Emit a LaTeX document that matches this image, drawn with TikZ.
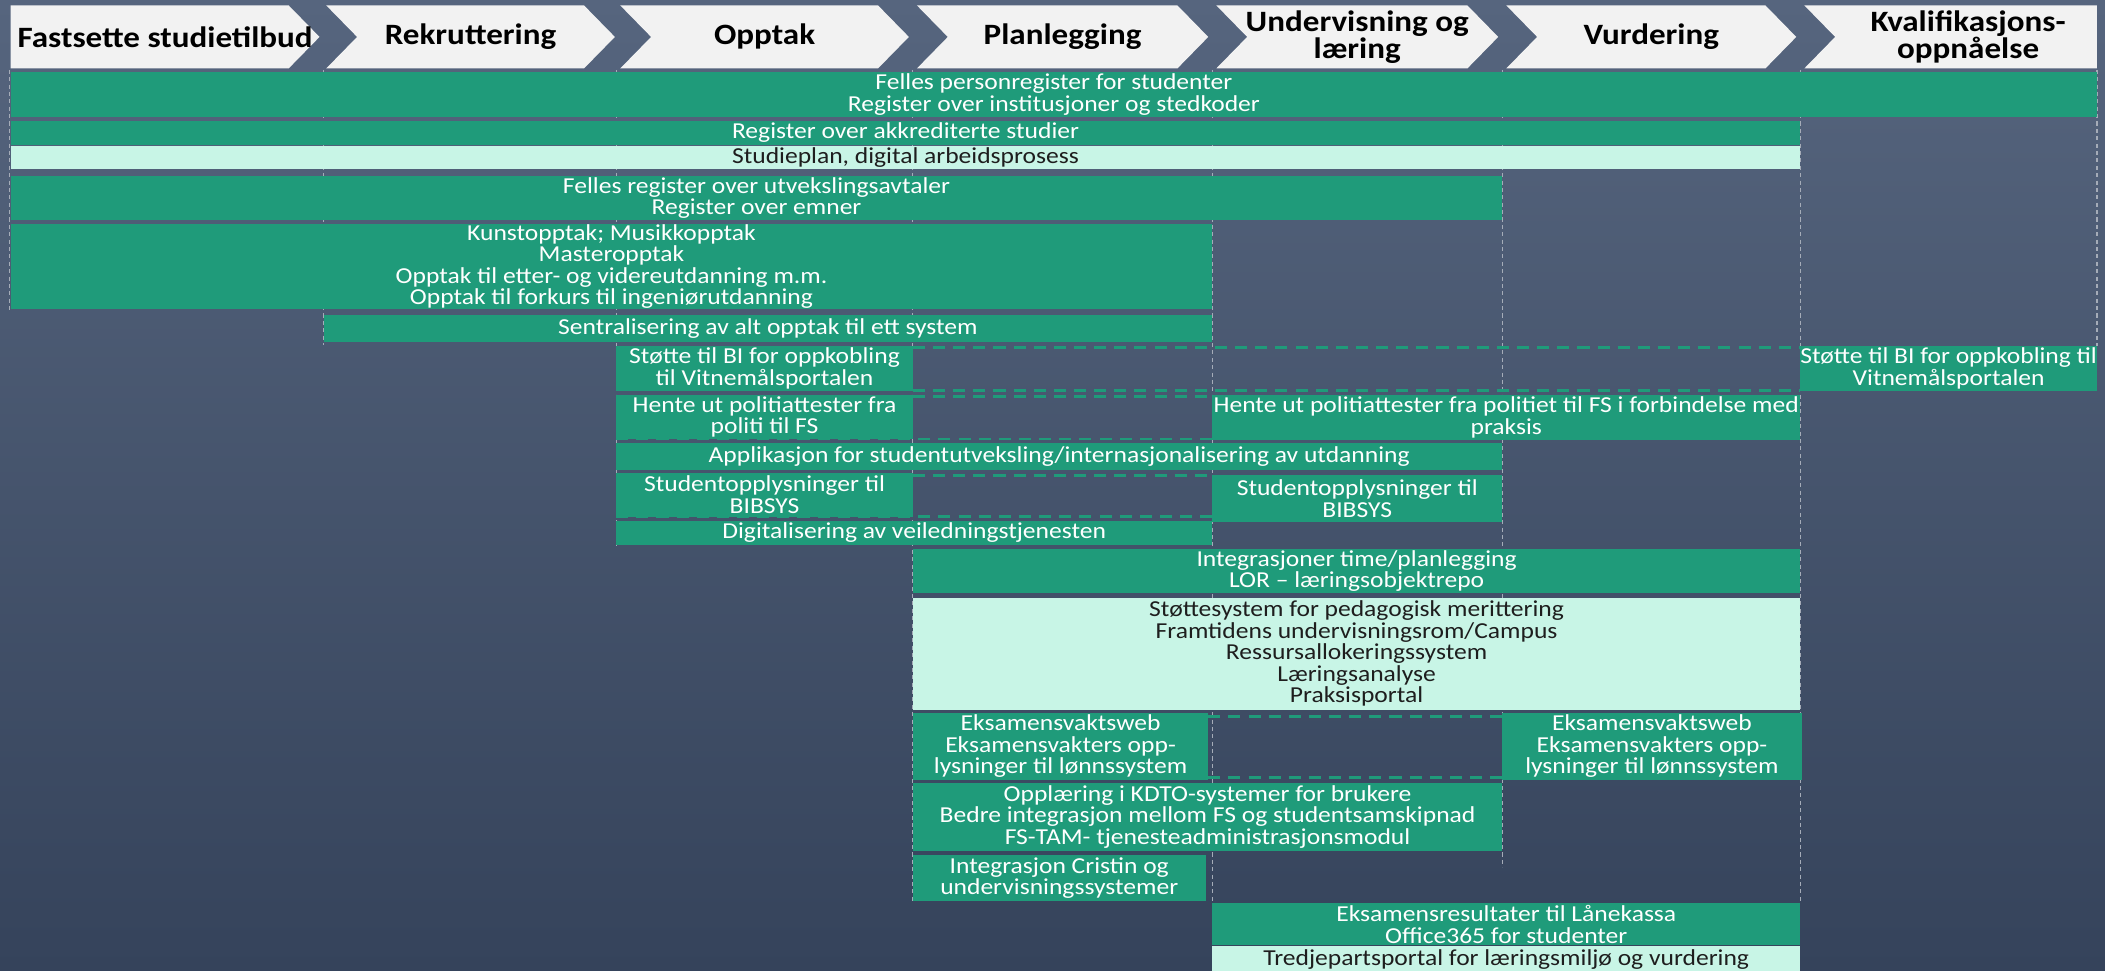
\documentclass[tikz,border=0pt]{standalone}
\usepackage{fontspec}
\setmainfont[FakeStretch=1.12]{Carlito}
\definecolor{bgtop}{RGB}{86,101,126}
\definecolor{bgbot}{RGB}{53,67,91}
\definecolor{barg}{RGB}{31,155,122}
\definecolor{barl}{RGB}{200,245,230}
\definecolor{hdr}{RGB}{242,242,242}
\definecolor{gridc}{RGB}{165,172,184}
\definecolor{ltxt}{RGB}{30,30,30}
\newcommand\placebar[7]{%
  \node[#1, minimum width={(#5-#3)*1pt}, minimum height={(#6-#4)*1pt}] (#2) at ({(#3+#5)/2},{(#4+#6)/2}) {#7};}
\newcommand\midchev[2]{% left x, tip x
  \fill[hdr] (#1,4) -- ({#2-23},4) -- (#2,27.5) -- ({#2-23},51) -- (#1,51) -- ({#1+23},27.5) -- cycle;}
\tikzset{
  gbar/.style={fill=barg, text=white, inner sep=0pt, outer sep=0pt, align=center,
    font=\fontsize{17}{16}\selectfont},
  lbar/.style={gbar, fill=barl, text=ltxt},
  gridline/.style={gridc, line width=0.9pt, dash pattern=on 3pt off 2.5pt},
  cellline/.style={barg, line width=2.2pt, dash pattern=on 9pt off 6pt},
  hdtext/.style={font=\fontsize{22}{20}\selectfont\bfseries, text=black, align=center, inner sep=0pt},
}
\begin{document}
\begin{tikzpicture}[x=1pt,y=-1pt]
\useasboundingbox (0,0) rectangle (1568,723);
\shade[top color=bgtop, bottom color=bgbot] (0,0) rectangle (1568,723);
% grid lines
\foreach \gx/\gy in {7/232, 241/257, 459/407, 680/672, 903/723, 1119/646, 1341/673, 1562/258}
  \draw[gridline] (\gx,52) -- (\gx,\gy);
% header chevrons
\fill[hdr] (8,4) -- (215,4) -- (238,27.5) -- (215,51) -- (8,51) -- cycle;
\midchev{243}{458}
\midchev{462}{677}
\midchev{683}{900}
\midchev{906}{1116}
\midchev{1122}{1338}
\fill[hdr] (1344,4) -- (1562,4) -- (1562,51) -- (1344,51) -- (1367,27.5) -- cycle;
\node[hdtext] (h1) at (123,27.5) {Fastsette studietilbud};
\node[hdtext] (h2) at (350.5,27.5) {Rekruttering};
\node[hdtext] (h3) at (569.5,27.5) {Opptak};
\node[hdtext] (h4) at (791.5,27.5) {Planlegging};
\node[hdtext] (h5) at (1011,27.5) {Undervisning og\\læring};
\node[hdtext] (h6) at (1230,27.5) {Vurdering};
\node[hdtext] (h7) at (1466,27.5) {Kvalifikasjons-\\oppnåelse};
% bars
\placebar{gbar}{felles}{8}{53.6}{1562}{87.4}{Felles personregister for studenter\\Register over institusjoner og stedkoder}
\placebar{gbar}{akkr}{8}{90}{1341}{108}{Register over akkrediterte studier}
\placebar{lbar}{studieplan}{8}{108.5}{1341}{126}{Studieplan, digital arbeidsprosess}
\placebar{gbar}{utveksl}{8}{131}{1119}{164}{Felles register over utvekslingsavtaler\\Register over emner}
\placebar{gbar}{opptak}{8}{166.5}{903}{230.5}{Kunstopptak; Musikkopptak\\Masteropptak\\Opptak til etter- og videreutdanning m.m.\\Opptak til forkurs til ingeniørutdanning}
\placebar{gbar}{sentral}{241}{235}{903}{255}{Sentralisering av alt opptak til ett system}
\placebar{gbar}{stA}{459}{258}{680}{291}{Støtte til BI for oppkobling\\til Vitnemålsportalen}
\placebar{gbar}{stB}{1341}{258}{1562}{291}{Støtte til BI for oppkobling til\\Vitnemålsportalen}
\placebar{gbar}{heA}{459}{294}{680}{327}{Hente ut politiattester fra\\politi til FS}
\placebar{gbar}{heB}{903}{294}{1341}{328}{Hente ut politiattester fra politiet til FS i forbindelse med\\praksis}
\placebar{gbar}{applik}{459}{330}{1119}{350}{Applikasjon for studentutveksling/internasjonalisering av utdanning}
\placebar{gbar}{soA}{459}{352}{680}{385}{Studentopplysninger til\\BIBSYS}
\placebar{gbar}{soB}{903}{354}{1119}{389}{Studentopplysninger til\\BIBSYS}
\placebar{gbar}{digi}{459}{388}{903}{406}{Digitalisering av veiledningstjenesten}
\placebar{gbar}{integ}{680}{409}{1341}{442}{Integrasjoner time/planlegging\\LOR – læringsobjektrepo}
\placebar{lbar}{stotte}{680}{445.5}{1341}{528.5}{Støttesystem for pedagogisk merittering\\Framtidens undervisningsrom/Campus\\Ressursallokeringssystem\\Læringsanalyse\\Praksisportal}
\placebar{gbar}{evA}{680}{531}{900}{581}{Eksamensvaktsweb\\Eksamensvakters opp-\\lysninger til lønnssystem}
\placebar{gbar}{evB}{1119}{531}{1342}{581}{Eksamensvaktsweb\\Eksamensvakters opp-\\lysninger til lønnssystem}
\placebar{gbar}{oppl}{680}{583}{1119}{634}{Opplæring i KDTO-systemer for brukere\\Bedre integrasjon mellom FS og studentsamskipnad\\FS-TAM- tjenesteadministrasjonsmodul}
\placebar{gbar}{cristin}{680}{637}{898}{671}{Integrasjon Cristin og\\undervisningssystemer}
\placebar{gbar}{lanek}{903}{673}{1341}{704}{Eksamensresultater til Lånekassa\\Office365 for studenter}
\placebar{lbar}{tredje}{903}{705}{1341}{724}{Tredjepartsportal for læringsmiljø og vurdering}
% dashed borders of empty cells
\draw[cellline] ([yshift=-1pt]stA.north east) -- ([yshift=-1pt]stB.north west);
\draw[cellline] (stA.south east) -- (stB.south west);
\draw[cellline] ([yshift=-1pt]heA.north east) -- ([yshift=-1pt]heA.north east -| heB.west);
\draw[cellline] (heA.south west) -- (heA.south west -| heB.west);
\draw[cellline] ([yshift=-2pt]soA.north east) -- ([yshift=-2pt]soA.north east -| soB.west);
\draw[cellline] (soA.south west) -- (soA.south west -| soB.west);
\draw[cellline] ([yshift=-2.5pt]evA.north east) -- ([yshift=-2.5pt]evB.north west);
\draw[cellline] ([yshift=1.5pt]evA.south east) -- ([yshift=1.5pt]evB.south west);
\end{tikzpicture}
\end{document}
